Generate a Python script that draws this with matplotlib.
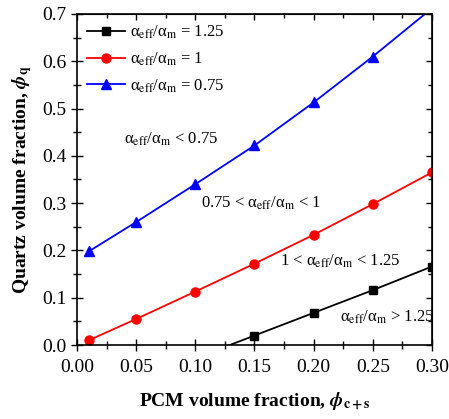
import matplotlib
matplotlib.use("Agg")
import matplotlib.pyplot as plt
from matplotlib.ticker import MultipleLocator

plt.rcParams['font.family'] = ['Liberation Serif', 'DejaVu Serif']
plt.rcParams['mathtext.fontset'] = 'stix'

# data
x_black = [0.10, 0.15, 0.20, 0.25, 0.30]
y_black = [-0.028, 0.020, 0.068, 0.116, 0.166]
x_red = [0.01, 0.05, 0.10, 0.15, 0.20, 0.25, 0.30]
y_red = [0.010, 0.055, 0.113, 0.172, 0.233, 0.298, 0.365]
x_blue = [0.01, 0.05, 0.10, 0.15, 0.20, 0.25, 0.30]
y_blue = [0.198, 0.260, 0.340, 0.422, 0.513, 0.610, 0.712]

ratio = r'α$_{\rm eff}$/α$_{\rm m}$'
labels = [ratio + ' = 1.25', ratio + ' = 1', ratio + ' = 0.75']
regions = [ratio + ' < 0.75', '0.75 < ' + ratio + ' < 1',
           '1 < ' + ratio + ' < 1.25', ratio + ' > 1.25']
region_pos = [(0.040, 0.425), (0.105, 0.290), (0.172, 0.168), (0.222, 0.050)]

fig = plt.figure(figsize=(4.49, 4.19), dpi=100)
ax = fig.add_axes([0.1715, 0.1766, 0.7905, 0.79])

ax.plot(x_black, y_black, color='black', marker='s', ms=6, lw=1.3, label=labels[0])
ax.plot(x_red, y_red, color='red', marker='o', ms=6.5, lw=1.3, label=labels[1])
ax.plot(x_blue, y_blue, color='blue', marker='^', ms=7, lw=1.3, label=labels[2])

for txt, (px, py) in zip(regions, region_pos):
    ax.text(px, py, txt, fontsize=12)

ax.set_xlim(0, 0.30)
ax.set_ylim(0, 0.7)

def set_ticks(a):
    a.xaxis.set_major_locator(MultipleLocator(0.05))
    a.xaxis.set_minor_locator(MultipleLocator(0.025))
    a.yaxis.set_major_locator(MultipleLocator(0.1))
    a.yaxis.set_minor_locator(MultipleLocator(0.05))

set_ticks(ax)
ax.xaxis.set_major_formatter(plt.FormatStrFormatter('%.2f'))
ax.yaxis.set_major_formatter(plt.FormatStrFormatter('%.1f'))
ax.tick_params(which='both', direction='inout', top=False, right=False, labelsize=14)
ax.tick_params(which='major', length=8, width=1)
ax.tick_params(which='minor', length=6, width=1)
ax.tick_params(axis='x', pad=6)

# top / right ticks point inward only
top = ax.secondary_xaxis('top')
right = ax.secondary_yaxis('right')
for a in (top, right):
    set_ticks(a)
    a.tick_params(which='both', direction='in', labelbottom=False, labeltop=False,
                  labelleft=False, labelright=False)
    a.tick_params(which='major', length=4, width=1)
    a.tick_params(which='minor', length=3, width=1)

for s in ax.spines.values():
    s.set_linewidth(1.2)

ax.set_xlabel(r'PCM volume fraction, $\boldsymbol{\phi}_{\mathbf{c+s}}$', fontsize=14,
              fontweight='bold', labelpad=10)
ax.set_ylabel(r'Quartz volume fraction, $\boldsymbol{\phi}_{\mathbf{q}}$', fontsize=14,
              fontweight='bold', labelpad=6)

ax.legend(loc='upper left', frameon=False, fontsize=12, handlelength=2.3,
          borderpad=0.2, borderaxespad=0.4, labelspacing=0.55, handletextpad=0.3)

fig.savefig('out.png', dpi=100)
